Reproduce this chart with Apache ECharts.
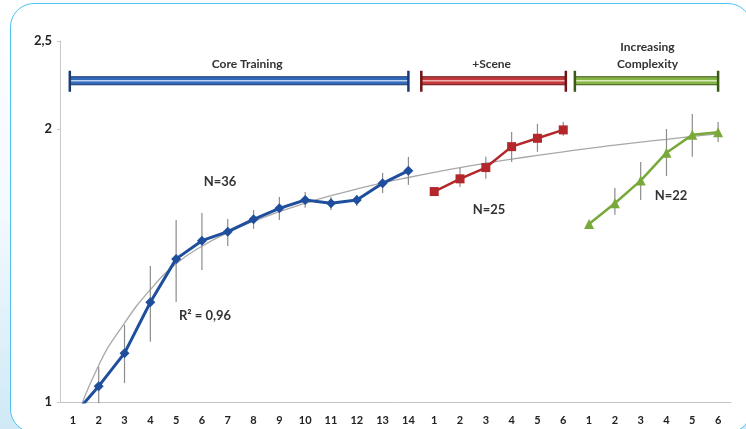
<!DOCTYPE html>
<html><head><meta charset="utf-8">
<script src="https://cdn.jsdelivr.net/npm/echarts@6/dist/echarts.min.js"></script>
<style>
html,body{margin:0;padding:0;width:746px;height:429px;overflow:hidden;background:linear-gradient(to bottom,#ffffff 0%,#f3f9fd 50%,#cfe9f6 100%);}
#card{position:absolute;left:10px;top:3px;width:742px;height:430px;box-sizing:border-box;border:1.5px solid #4ec2ef;border-radius:24px;background:#fff;}
#main{position:absolute;left:0;top:0;width:746px;height:429px;}
</style></head><body><div id="card"></div><div id="main"></div>
<script>
// ---- data ----
const categories = ['1','2','3','4','5','6','7','8','9','10','11','12','13','14',
                    '1','2','3','4','5','6',
                    '1','2','3','4','5','6'];
const coreMean = [0.965, 1.041, 1.132, 1.288, 1.438, 1.506, 1.541, 1.590, 1.635, 1.670, 1.656, 1.670, 1.742, 1.799];
const coreLow  = [null, 0.997, 1.049, 1.165, 1.289, 1.398, 1.486, 1.552, 1.587, 1.637, 1.628, 1.645, 1.700, 1.735];
const coreHigh = [null, 1.093, 1.216, 1.412, 1.587, 1.616, 1.591, 1.628, 1.683, 1.704, 1.683, 1.691, 1.789, 1.863];
const sceneMean = [1.706, 1.762, 1.813, 1.912, 1.953, 1.995];
const sceneLow  = [1.693, 1.726, 1.762, 1.839, 1.887, 1.965];
const sceneHigh = [1.718, 1.811, 1.863, 1.985, 2.026, 2.036];
const complexMean = [1.571, 1.656, 1.754, 1.883, 1.970, 1.983];
const complexLow  = [1.559, 1.608, 1.670, 1.775, 1.863, 1.935];
const complexHigh = [1.583, 1.722, 1.839, 2.000, 2.077, 2.036];
const trend = [0.935, 1.098, 1.222, 1.330, 1.420, 1.485, 1.537, 1.582, 1.621, 1.656, 1.688, 1.717, 1.744,
               1.768, 1.791, 1.813, 1.833, 1.852, 1.870, 1.887, 1.904, 1.919, 1.934, 1.948, 1.962, 1.975];
const phases = ['Core Training', '+Scene', 'Increasing\nComplexity'];
const phaseStart = [-0.12, 13.5, 19.45];
const phaseEnd = [13.0, 19.1, 25.0];
const annotations = ['N=36', 'R\u00b2 = 0,96', 'N=25', 'N=22'];

// ---- styles ----
const PHASE_Y = 2.26;
const phaseColors = [
  {dark:'#1b3b72', mid:'#3468b8', light:'#b9d2f2'},
  {dark:'#6e1517', mid:'#c23a3c', light:'#f0b0b0'},
  {dark:'#3b5a17', mid:'#86b446', light:'#d8ecb8'}
];
const phaseLabelDx = [8, -2, 1];
const annotPos = [[220,182],[205,316],[489,210],[671,196]];
const FONT = 'Lato, "Open Sans", sans-serif';

const offCore = 0, offScene = 14, offComplex = 20;
const toPairs = (arr, off) => arr.map((v, i) => [i + off, v]);
const errPairs = (lo, hi, off) => lo.map((v, i) => v == null ? null : [i + off, v, hi[i]]).filter(Boolean);

function catX(api, v, y) {
  const n = categories.length;
  const b = Math.max(0, Math.min(n - 2, Math.floor(v)));
  const c0 = api.coord([b, y]), c1 = api.coord([b + 1, y]);
  return c0[0] + (v - b) * (c1[0] - c0[0]);
}
function renderErr(params, api) {
  const x = api.value(0);
  const p1 = api.coord([x, api.value(1)]);
  const p2 = api.coord([x, api.value(2)]);
  return {type:'line', shape:{x1:p1[0], y1:p1[1], x2:p2[0], y2:p2[1]},
          style:{stroke:'#8c8c8c', lineWidth:1.2}};
}
function renderPhase(params, api) {
  const i = params.dataIndex;
  const c = phaseColors[i];
  const y = api.coord([0, PHASE_Y])[1];
  const sx = catX(api, phaseStart[i], PHASE_Y);
  const ex = catX(api, phaseEnd[i], PHASE_Y);
  return {type:'group', children:[
    {type:'rect', shape:{x:sx, y:y-4, width:ex-sx, height:8}, style:{fill:c.mid, stroke:c.dark, lineWidth:1.2}},
    {type:'line', shape:{x1:sx, y1:y, x2:ex, y2:y}, style:{stroke:c.light, lineWidth:1.5}},
    {type:'line', shape:{x1:sx, y1:y-10, x2:sx, y2:y+11}, style:{stroke:c.dark, lineWidth:2.5}},
    {type:'line', shape:{x1:ex, y1:y-10, x2:ex, y2:y+11}, style:{stroke:c.dark, lineWidth:2.5}},
    {type:'text', style:{text:phases[i], x:(sx+ex)/2 + phaseLabelDx[i], y:y-8,
      align:'center', verticalAlign:'bottom', font:'bold 12px ' + FONT, fill:'#333', lineHeight:17}}
  ]};
}

const chart = echarts.init(document.getElementById('main'), null, {renderer:'canvas'});
chart.setOption({
  animation:false,
  grid:{left:60, right:15, top:41, bottom:27},
  xAxis:{type:'category', data:categories, boundaryGap:true,
    axisLine:{lineStyle:{color:'#c4c4c4', width:1}},
    axisTick:{length:4, lineStyle:{color:'#c4c4c4'}},
    axisLabel:{color:'#222', fontWeight:'bold', fontSize:11, fontFamily:FONT, margin:13, interval:0}},
  yAxis:{type:'log', logBase:2, min:1, max:2.5,
    axisLine:{show:true, lineStyle:{color:'#c8c8c8'}},
    axisTick:{show:true, length:3, lineStyle:{color:'#c8c8c8'}},
    splitLine:{show:false}, minorTick:{show:false},
    axisLabel:{color:'#222', fontWeight:'bold', fontSize:13, fontFamily:FONT, margin:8,
      showMaxLabel:true,
      formatter: v => String(Math.round(v*100)/100).replace('.', ',')}},
  series:[
    {type:'line', name:'trend', data:toPairs(trend, 0), smooth:0.5, showSymbol:false, symbol:'none',
     lineStyle:{color:'#a8a8a8', width:1.3}, z:1, silent:true},
    {type:'custom', name:'errCore', renderItem:renderErr, data:errPairs(coreLow, coreHigh, offCore), encode:{x:0, y:[1,2]}, z:2},
    {type:'custom', name:'errScene', renderItem:renderErr, data:errPairs(sceneLow, sceneHigh, offScene), encode:{x:0, y:[1,2]}, z:2},
    {type:'custom', name:'errComplex', renderItem:renderErr, data:errPairs(complexLow, complexHigh, offComplex), encode:{x:0, y:[1,2]}, z:2},
    {type:'line', name:'Core Training', data:toPairs(coreMean, offCore), symbol:'diamond', symbolSize:10,
     itemStyle:{color:'#1f4f9c'}, lineStyle:{color:'#1f4f9c', width:3}, z:3, clip:true},
    {type:'line', name:'+Scene', data:toPairs(sceneMean, offScene), symbol:'rect', symbolSize:9,
     itemStyle:{color:'#b3262a'}, lineStyle:{color:'#b3262a', width:2.5}, z:3},
    {type:'line', name:'Increasing Complexity', data:toPairs(complexMean, offComplex), symbol:'triangle', symbolSize:10,
     itemStyle:{color:'#78a93a'}, lineStyle:{color:'#78a93a', width:2.5}, z:3},
    {type:'custom', name:'phases', renderItem:renderPhase,
     data:phaseStart.map((s, i) => [i, i, PHASE_Y]), encode:{x:[0,1], y:2}, z:4}
  ],
  graphic: annotations.map((t, i) => ({type:'text', x:annotPos[i][0], y:annotPos[i][1],
    style:{text:t, align:'center', verticalAlign:'middle', font:'bold 13px ' + FONT, fill:'#333'}}))
});
</script></body></html>
